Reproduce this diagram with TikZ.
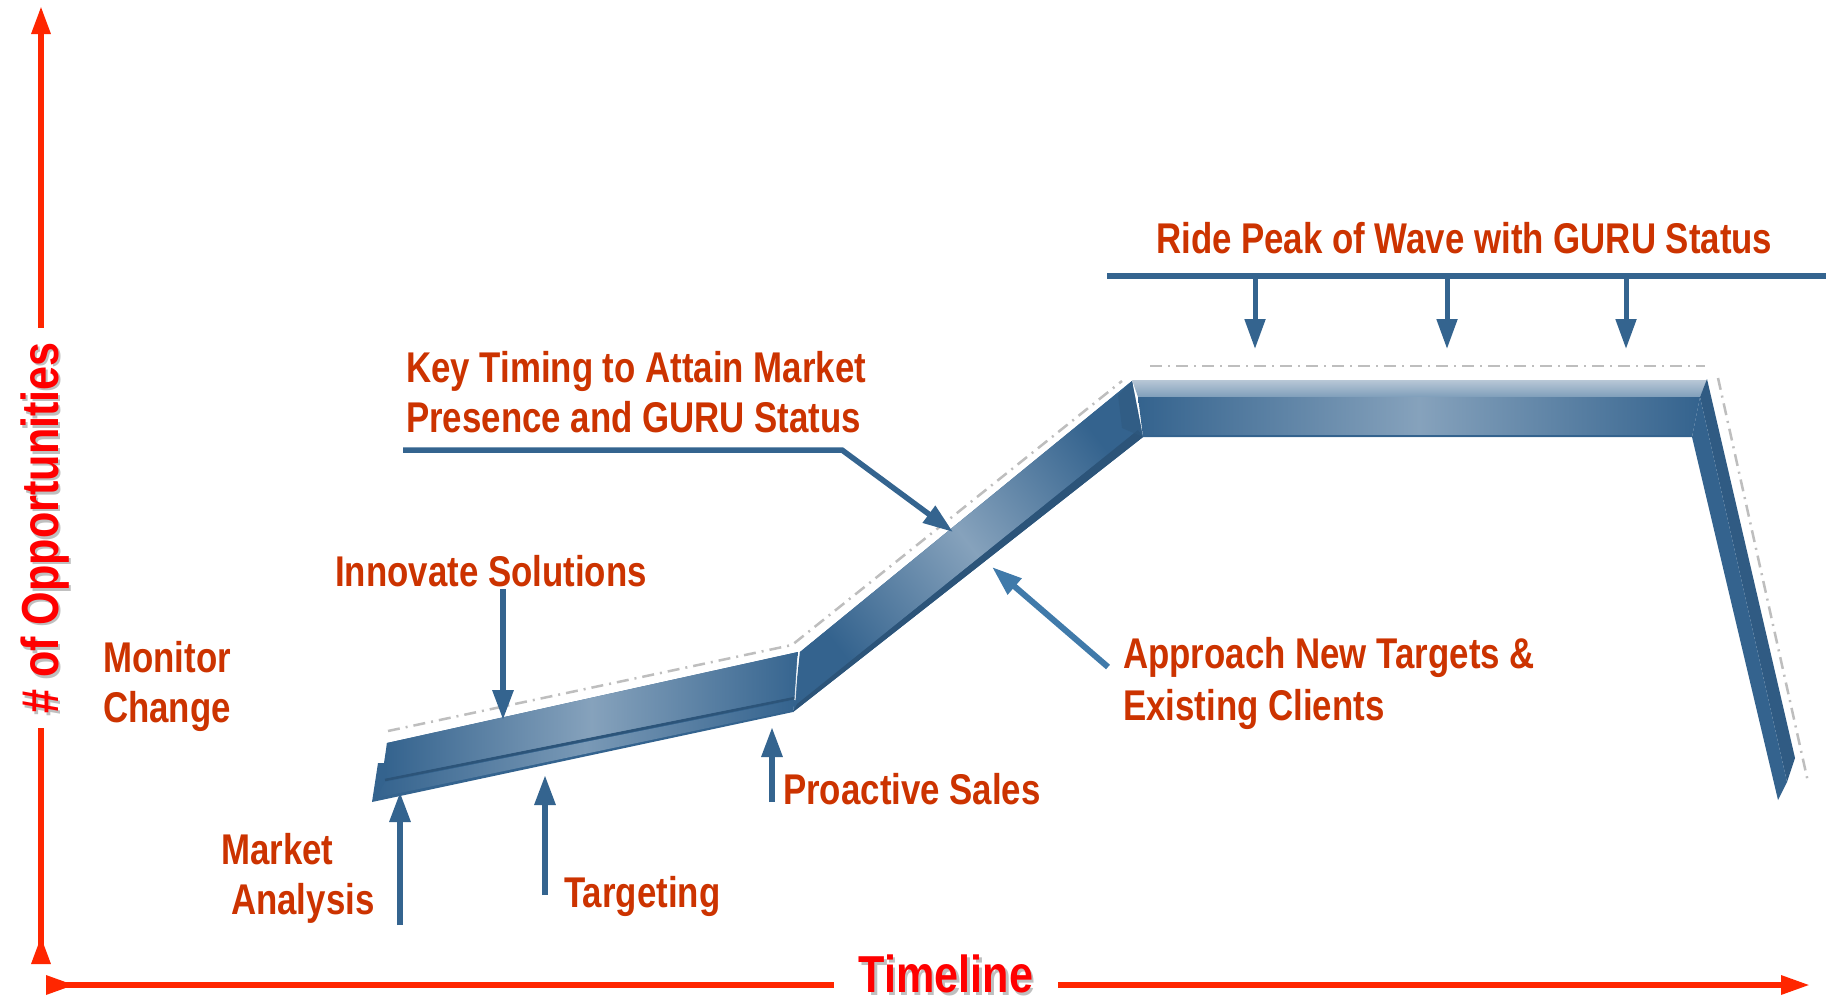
\documentclass[tikz,border=0pt]{standalone}
\usepackage{fontspec}
\usetikzlibrary{arrows.meta}

\newfontfamily\narrowsans{Liberation Sans}[FakeStretch=0.81]
\newfontfamily\axissans{Liberation Sans}[FakeStretch=0.83]

\definecolor{labeltext}{RGB}{204,51,0}
\definecolor{axisred}{RGB}{255,38,0}
\definecolor{axislabel}{RGB}{255,0,0}
\definecolor{pointer}{RGB}{52,100,143}
\definecolor{pointerlight}{RGB}{64,122,170}
\definecolor{beamdark}{RGB}{52,99,142}
\definecolor{beammid}{RGB}{72,117,157}
\definecolor{beamlight}{RGB}{134,162,188}
\definecolor{beamtop}{RGB}{184,199,214}
\definecolor{guide}{RGB}{190,190,190}

\tikzset{
  lbl/.style={inner sep=0pt, anchor=base west, text=labeltext,
    font=\narrowsans\bfseries\fontsize{43}{50}\selectfont},
  axlbl/.style={inner ysep=0pt, anchor=base, text=axislabel,
    font=\axissans\bfseries\fontsize{52}{58}\selectfont},
  axshadow/.style={axlbl, text=black, text opacity=0.25},
  axisline/.style={draw=axisred, line width=6pt},
  pointer/.style={draw=pointer, line width=6pt, -{Triangle[length=30pt,width=20pt]}},
  bar/.style={draw=pointer, line width=5.5pt},
  guideline/.style={draw=guide, line width=2.5pt, dash pattern=on 12pt off 6pt on 2pt off 6pt},
}

\begin{document}
\begin{tikzpicture}[x=1pt,y=-1pt]
\useasboundingbox[fill=white] (0,0) rectangle (1835,1004);

% ---------- axes ----------
\coordinate (ytop) at (41,6);
\coordinate (ybot) at (41,964);
\coordinate (xstart) at (46,985);
\coordinate (xend) at (1810,985);

\node[axshadow, rotate=90, inner xsep=14pt] (oppsshadow) at (60.5,530.5) {\# of Opportunities};
\node[axlbl, rotate=90, inner xsep=14pt] (opps) at (58,528) {\# of Opportunities};
\draw[axisline, -{Triangle[length=28pt,width=18pt]}] (opps.east -| ytop) -- (ytop);
\draw[axisline, -{Triangle[length=28pt,width=18pt,reversed]}] (opps.west -| ybot) -- (ybot);

\node[axshadow, inner xsep=25pt] (timelineshadow) at (948.5,995) {Timeline};
\node[axlbl, inner xsep=25pt] (timeline) at (946,992.5) {Timeline};
\draw[axisline, {Triangle[length=29pt,width=18pt,reversed]}-] (xstart) -- (timeline.west |- xstart);
\draw[axisline, -{Triangle[length=29pt,width=18pt]}] (timeline.east |- xend) -- (xend);

% ---------- dash-dot outline above the wave ----------
\draw[guideline] (388,731) -- (792,645) -- (1122,381);
\draw[guideline] (1150,366) -- (1705,366);
\draw[guideline] (1718,378) -- (1808,782);

% ---------- the wave beam ----------
% rising shallow part
\fill[beamdark] (387,743) -- (798,652) -- (793,712) -- (372,802) -- (378,763) -- (384,763) -- cycle;
\shade[left color=beamdark, right color=beamdark!90!beammid, middle color=beamlight]
  (387,743) -- (798,652) -- (795,697) -- (385,779) -- cycle;
\shade[left color=beamdark, right color=beamdark, middle color=beamlight!80!beammid]
  (385,782) -- (795,700) -- (793,710) -- (376,798) -- cycle;
\draw[beamdark!85!black, line width=2.5pt] (385,780) -- (795,698);

% steep climb
\fill[beamdark] (800,652) -- (1132,381) -- (1143,437) -- (793,712) -- cycle;
\shade[left color=beamdark, right color=beamdark, middle color=beamlight, shading angle=128]
  (800,652) -- (1132,381) -- (1138,430) -- (797,704) -- cycle;
\fill[beamdark!85!black] (797,704) -- (1138,430) -- (1143,437) -- (793,712) -- cycle;
\fill[beamdark!90!black, opacity=0.6] (1132,381) -- (1143,437) -- (1122,428) -- (1118,395) -- cycle;
\draw[white, line width=1.2pt, opacity=0.8] (798,656) -- (795,700);

% peak plateau
\shade[top color=beamtop, bottom color=beammid!70!white]
  (1132,380) -- (1707,380) -- (1700,397) -- (1138,397) -- cycle;
\shade[left color=beamdark, right color=beamdark, middle color=beamlight]
  (1138,397) -- (1700,397) -- (1692,437) -- (1143,437) -- cycle;
\draw[beamdark, line width=2pt] (1143,436) -- (1692,436);

% drop
\fill[beamdark!92!black] (1707,379) -- (1795,758) -- (1787,782) -- (1700,397) -- cycle;
\fill[beamdark] (1700,397) -- (1787,782) -- (1778,800) -- (1692,437) -- cycle;

% ---------- callouts ----------
\node[lbl] (ride) at (1156,253) {Ride Peak of Wave with GURU Status};
\coordinate (rideL) at (1107,276);
\coordinate (rideR) at (1826,276);
\draw[bar] (rideL) -- (rideR);
\coordinate (peakA) at (1255,349);
\coordinate (peakB) at (1447,349);
\coordinate (peakC) at (1626,349);
\draw[pointer, line width=5pt] (peakA |- rideL) -- (peakA);
\draw[pointer, line width=5pt] (peakB |- rideL) -- (peakB);
\draw[pointer, line width=5pt] (peakC |- rideL) -- (peakC);

\node[lbl] (key1) at (406,382) {Key Timing to Attain Market};
\node[lbl] (key2) at (406,432) {Presence and GURU Status};
\coordinate (keyL) at (403,450);
\coordinate (keyK) at (842,450);
\coordinate (climb) at (953,532);
\draw[bar, -{Triangle[length=30pt,width=20pt]}] (keyL) -- (keyK) -- (climb);

\node[lbl] (innovate) at (335,586) {Innovate Solutions};
\coordinate (innovS) at (503,589);
\coordinate (innovE) at (503,720);
\draw[pointer] (innovS) -- (innovE);

\node[lbl] (monitor) at (103,672) {Monitor};
\node[lbl] (change) at (103,722) {Change};

\node[lbl] (market) at (221,864) {Market};
\node[lbl] (analysis) at (231,914) {Analysis};
\coordinate (maS) at (400,925);
\coordinate (maE) at (400,792);
\draw[pointer] (maS) -- (maE);

\node[lbl] (targeting) at (564,907) {Targeting};
\coordinate (tgS) at (545,895);
\coordinate (tgE) at (545,775);
\draw[pointer] (tgS) -- (tgE);

\node[lbl] (proactive) at (783,804) {Proactive Sales};
\coordinate (paS) at (772,802);
\coordinate (paE) at (772,727);
\draw[pointer] (paS) -- (paE);

\node[lbl] (approach1) at (1123,668) {Approach New Targets \&};
\node[lbl] (approach2) at (1123,720) {Existing Clients};
\coordinate (apS) at (1108,667);
\coordinate (apE) at (992,567);
\draw[pointer, draw=pointerlight] (apS) -- (apE);

\end{tikzpicture}
\end{document}
